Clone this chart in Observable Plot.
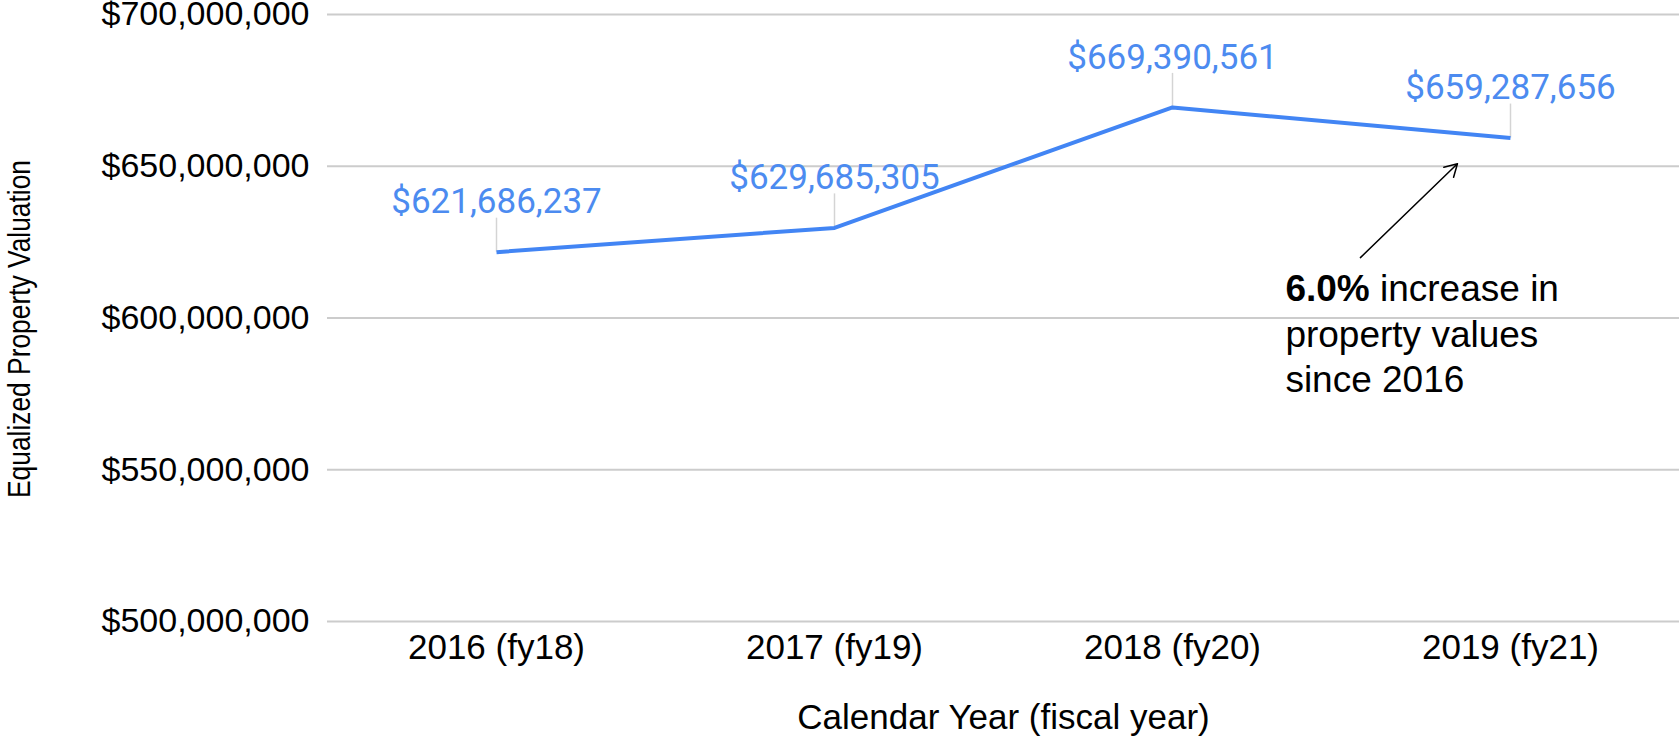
<!DOCTYPE html>
<html>
<head>
<meta charset="utf-8">
<script src="https://cdn.jsdelivr.net/npm/d3@7"></script>
<script src="https://cdn.jsdelivr.net/npm/@observablehq/plot@0.6"></script>
<style>
  html, body { margin: 0; padding: 0; background: #fff; }
  #chart svg { display: block; }
</style>
</head>
<body>
<div id="chart"></div>
<script>
// ---- data ----
const categories = ["2016 (fy18)", "2017 (fy19)", "2018 (fy20)", "2019 (fy21)"];
const values = [621686237, 629685305, 669390561, 659287656];
const yTicks = [500000000, 550000000, 600000000, 650000000, 700000000];
const xTitle = "Calendar Year (fiscal year)";
const yTitle = "Equalized Property Valuation";
const noteBold = "6.0%";
const noteLines = ["increase in", "property values", "since 2016"];
// annotation anchors in data units (x = category index, y = dollars)
const noteX = [2.334];
const noteY = [609400000, 594200000, 579400000];
const arrowFrom = [2.556, 619900000];
const arrowTo = [2.843, 650800000];

// ---- layout ----
const W = 1679, H = 736;
const mL = 327, mR = 0, mT = 14, mB = 115;
const data = categories.map((c, i) => ({i, c, v: values[i]}));
const fmt = d3.format("$,");
const leaderPx = 34;
const yPerPx = (yTicks[yTicks.length - 1] - yTicks[0]) / (H - mT - mB);

const blue = "#4285f4";
const labelBlue = "#4c8bf0";

// measure bold part width
const ctx = document.createElement("canvas").getContext("2d");
ctx.font = "bold 37px 'Liberation Sans'";
const boldW = ctx.measureText(noteBold + " ").width;

const chart = Plot.plot({
  width: W, height: H,
  marginLeft: mL, marginRight: mR, marginTop: mT, marginBottom: mB,
  style: {fontFamily: "'Liberation Sans', Arial, sans-serif", background: "#fff", overflow: "visible"},
  x: {type: "linear", domain: [-0.5, categories.length - 0.5]},
  y: {domain: [yTicks[0], yTicks[yTicks.length - 1]]},
  marks: [
    Plot.gridY(yTicks, {stroke: "#cccccc", strokeOpacity: 1, strokeWidth: 2}),
    Plot.axisY({ticks: yTicks, tickSize: 0, tickPadding: 18, tickFormat: d => fmt(d),
      fontSize: 34, fill: "#000", label: null}),
    Plot.axisX({ticks: d3.range(categories.length), tickSize: 0, tickPadding: 13,
      tickFormat: i => categories[i], fontSize: 35, fill: "#000", label: null}),
    Plot.ruleX(data, {x: "i", y1: "v", y2: d => d.v + leaderPx * yPerPx, stroke: "#d4d4d4", strokeWidth: 1.5}),
    Plot.line(data, {x: "i", y: "v", stroke: blue, strokeWidth: 4, strokeLinecap: "butt", strokeLinejoin: "miter"}),
    Plot.text(data, {x: "i", y: "v", text: d => fmt(d.v), dy: -50, fill: labelBlue,
      fontSize: 35, fontFamily: "Roboto"}),
    Plot.arrow([0], {x1: () => arrowFrom[0], y1: () => arrowFrom[1], x2: () => arrowTo[0], y2: () => arrowTo[1],
      stroke: "#000", strokeWidth: 1.5, headLength: 14, bend: 0, insetStart: 0, insetEnd: 0}),
    Plot.text([noteBold], {x: () => noteX[0], y: () => noteY[0], text: d => d, textAnchor: "start",
      fontSize: 37, fontWeight: "bold", fill: "#000"}),
    Plot.text(noteLines, {x: () => noteX[0], y: (d, i) => noteY[i], text: d => d, textAnchor: "start",
      fontSize: 37, fill: "#000"}),
    Plot.text([xTitle], {frameAnchor: "bottom", text: d => d, dy: 107, fontSize: 35, fill: "#000"}),
    Plot.text([yTitle], {frameAnchor: "left", text: d => d, dx: -308, dy: 180, rotate: -90, fontSize: 32,
      textAnchor: "start", fill: "#000"})
  ]
});
document.getElementById("chart").appendChild(chart);
chart.querySelectorAll("g[aria-label='text'] text").forEach(t => {
  if (t.textContent === noteLines[0]) t.setAttribute("dx", boldW);
  if (t.textContent === yTitle) {
    t.setAttribute("textLength", 338);
    t.setAttribute("lengthAdjust", "spacingAndGlyphs");
  }
});
</script>
</body>
</html>
